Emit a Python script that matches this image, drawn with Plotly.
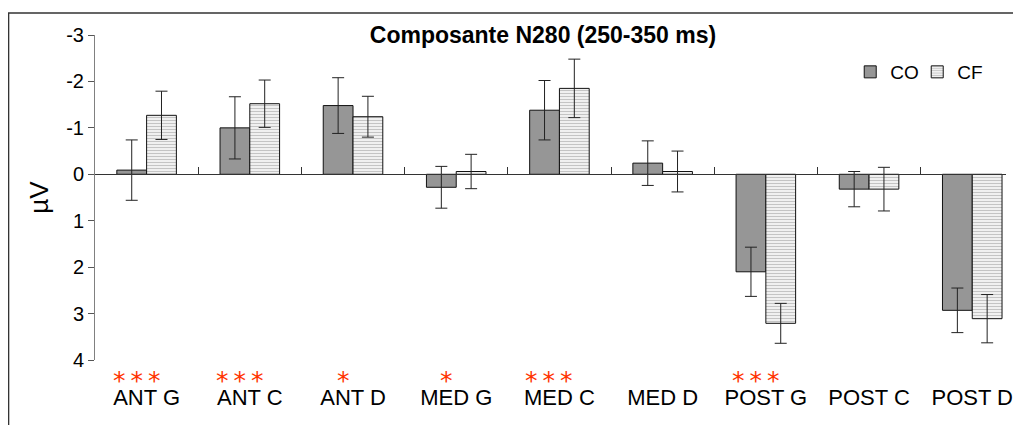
import plotly.graph_objects as go

categories = ["ANT G", "ANT C", "ANT D", "MED G", "MED C", "MED D", "POST G", "POST C", "POST D"]
co_values = [-0.09, -1.00, -1.48, 0.28, -1.38, -0.24, 2.10, 0.32, 2.93]
co_errors = [0.65, 0.67, 0.60, 0.45, 0.64, 0.48, 0.53, 0.38, 0.48]
cf_values = [-1.27, -1.52, -1.24, -0.06, -1.85, -0.06, 3.21, 0.32, 3.11]
cf_errors = [0.52, 0.51, 0.44, 0.37, 0.63, 0.44, 0.43, 0.47, 0.52]
significance = ["***", "***", "*", "*", "***", "", "***", "", ""]
y_ticks = [-3, -2, -1, 0, 1, 2, 3, 4]
y_tick_text = ["-3", "-2", "-1", "0", "1", "2", "3", "4"]

FONT = "Liberation Sans, Arial, sans-serif"
W, H = 1013, 425
ML, MT, MB = 95, 35, 65
plot_w = W - ML
plot_h = H - MT - MB
cat_px = 104.0
x_max = -0.5 + plot_w / cat_px

fig = go.Figure()
fig.add_trace(go.Bar(
    name="CO", x=categories, y=co_values,
    marker=dict(color="#969696", line=dict(color="#111111", width=1)),
    error_y=dict(type="data", array=co_errors, color="#222222", thickness=1, width=6),
))
fig.add_trace(go.Bar(
    name="CF", x=categories, y=cf_values,
    marker=dict(color="white", line=dict(color="#111111", width=1),
                pattern=dict(shape="-", fgcolor="#8a8a8a", bgcolor="white", size=3, solidity=0.5)),
    error_y=dict(type="data", array=cf_errors, color="#222222", thickness=1, width=6),
))
# helper trace to host the zero-line axis
fig.add_trace(go.Scatter(x=categories, y=[None] * len(categories), xaxis="x2",
                         showlegend=False, hoverinfo="skip", mode="lines"))

for i, s in enumerate(significance):
    if s:
        fig.add_annotation(x=categories[i], y=-0.012, xref="x", yref="paper",
                           text="\u2009".join(s), showarrow=False, xshift=-10, yanchor="top",
                           height=18, valign="top",
                           font=dict(family="DejaVu Sans", size=25, color="#ff3300"))

fig.update_layout(
    width=W, height=H,
    margin=dict(l=ML, r=0, t=MT, b=MB),
    paper_bgcolor="white", plot_bgcolor="white",
    barmode="group", bargap=0.423, bargroupgap=0,
    font=dict(family=FONT, color="black"),
    title=dict(text="<b>Composante N280 (250-350 ms)</b>", x=543 / W, xanchor="center",
               y=1 - 35 / H, yanchor="middle", yref="container",
               font=dict(family=FONT, size=23, color="black")),
    legend=dict(orientation="h", x=0.829, xanchor="left", y=1 - (72 - MT) / plot_h,
                yanchor="middle", font=dict(family=FONT, size=19), bgcolor="rgba(0,0,0,0)",
                itemwidth=30, entrywidth=22, tracegroupgap=0),
    showlegend=True,
    xaxis=dict(type="category", categoryarray=categories, range=[-0.5, x_max],
               showline=False, showgrid=False, zeroline=False,
               ticks="outside", ticklen=18, tickcolor="rgba(0,0,0,0)",
               tickfont=dict(family=FONT, size=22, color="black")),
    xaxis2=dict(type="category", categoryarray=categories, range=[-0.5, x_max],
                overlaying="x", anchor="free", position=4 / 7, side="bottom",
                showline=True, linecolor="#333333", linewidth=1,
                tickson="boundaries", ticks="inside", ticklen=7, tickcolor="#333333",
                showticklabels=False, showgrid=False, zeroline=False),
    yaxis=dict(range=[4, -3], tickvals=y_ticks, ticktext=y_tick_text,
               showgrid=False, zeroline=False,
               showline=True, linecolor="#808080", linewidth=1,
               ticks="outside", ticklen=6, tickcolor="#555555",
               tickfont=dict(family=FONT, size=20, color="black"),
               title=dict(text="µV", font=dict(family=FONT, size=26, color="black"), standoff=10)),
    shapes=[dict(type="rect", xref="paper", yref="paper",
                 x0=(8 - ML) / plot_w, x1=1.2, y0=-1, y1=1 + (MT - 13) / plot_h,
                 line=dict(color="#333333", width=1.3), fillcolor="rgba(0,0,0,0)", layer="below")],
)

fig.write_html("out.html")
